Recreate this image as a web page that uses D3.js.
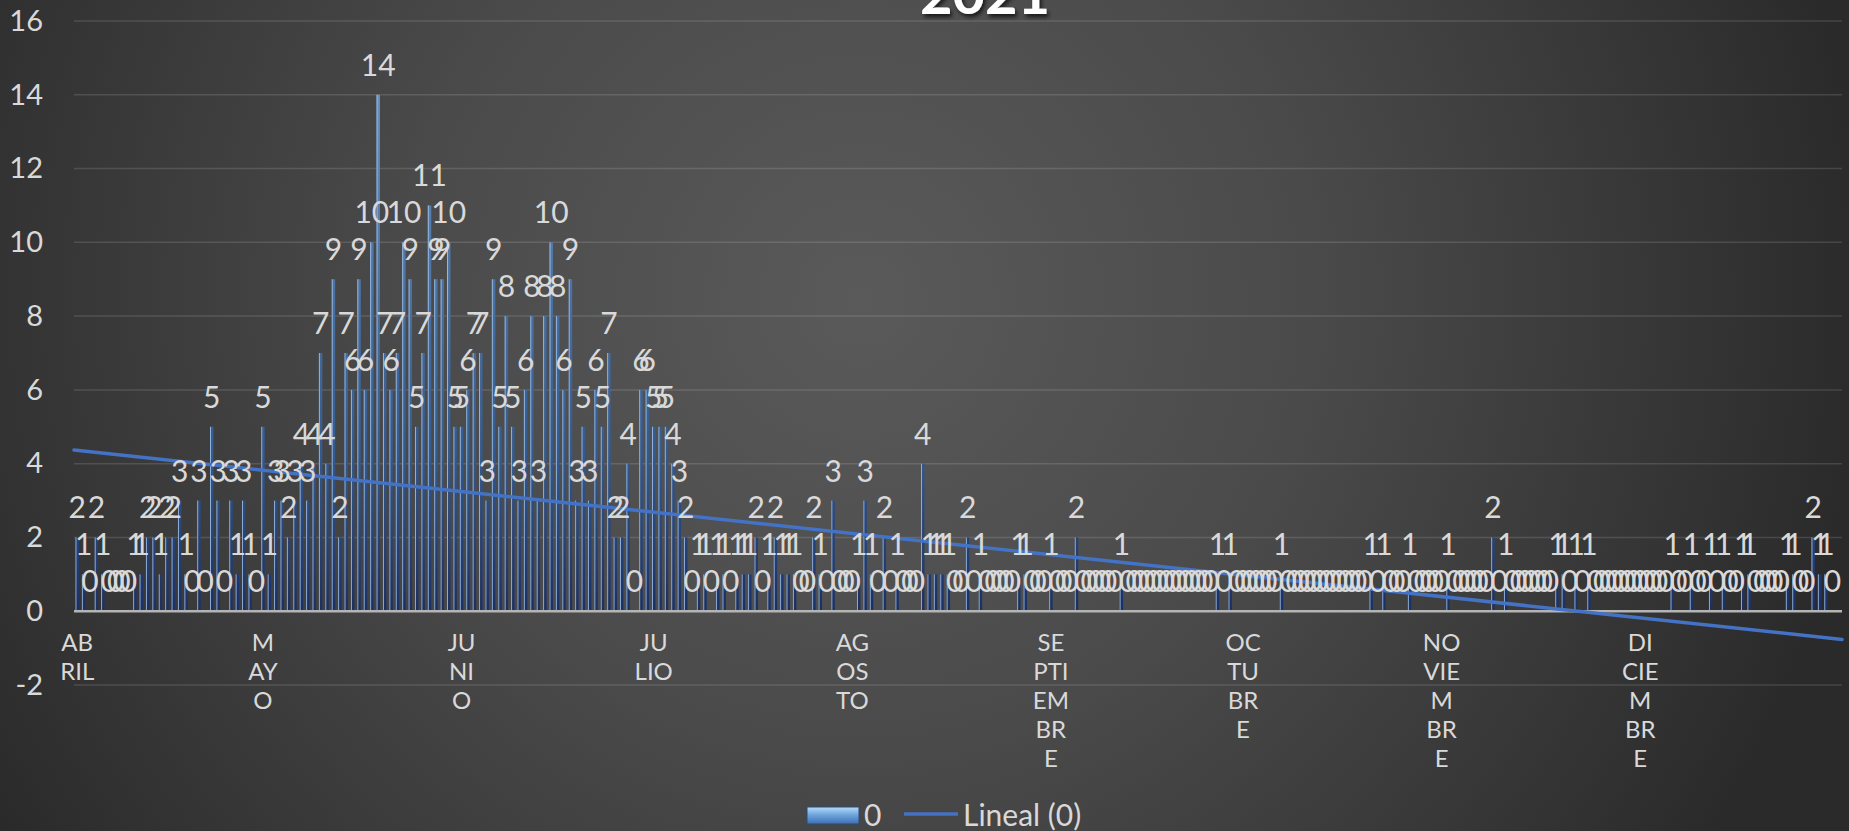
<!DOCTYPE html>
<html><head><meta charset="utf-8">
<script src="https://cdn.jsdelivr.net/npm/d3@7/dist/d3.min.js"></script>
<style>html,body{margin:0;padding:0;background:#333;overflow:hidden}svg{display:block}</style>
</head><body>
<svg id="chart" width="1849" height="831"></svg>
<script>
// ---------- data ----------
const chartTitle = "2021";
const seriesName = "0";
const trendName = "Lineal (0)";
const valuesApr = [2,1,0,2,1,0,0,0,0,1,1,2,2,1,2,2,3,1,0,3,0,5,3,0,3,1,3,1,0,5];
const valuesMay = [1,3,3,2,3,4,3,4,7,4,9,2,7,6,9,6,10,14,7,6,7,10,9,5,7,11,9,9,10,5,5];
const valuesJun = [6,7,7,3,9,5,8,5,3,6,8,3,8,10,8,6,9,3,5,3,6,5,7,2,2,4,0,6,6,5];
const valuesJul = [5,5,4,3,2,0,1,1,0,1,1,0,1,1,1,2,0,1,2,1,1,1,0,0,2,1,0,3,0,0,0];
const valuesAug = [1,3,1,0,2,0,1,0,0,0,4,1,1,1,1,0,0,2,0,1,0,0,0,0,0,1,1,0,0,0,1];
const valuesSep = [0,0,0,2,0,0,0,0,0,0,1,0,0,0,0,0,0,0,0,0,0,0,0,0,0,1,0,1,0,0];
const valuesOct = [0,0,0,0,0,1,0,0,0,0,0,0,0,0,0,0,0,0,0,1,0,1,0,0,0,1,0,0,0,0,0];
const valuesNov = [1,0,0,0,0,0,0,2,0,1,0,0,0,0,0,0,0,1,1,0,1,0,1,0,0,0,0,0,0,0];
const valuesDec = [0,0,0,0,0,1,0,0,1,0,0,1,0,1,0,0,1,1,0,0,0,0,0,1,1,0,0,2,1,1,0];
const extraDays = [null];
// category rows that carry a month label
const monthLabelIndex = [0,29,60,90,121,152,182,213,244];
const monthLabels = [["AB","RIL"],["M","AY","O"],["JU","NI","O"],["JU","LIO"],["AG","OS","TO"],
  ["SE","PTI","EM","BR","E"],["OC","TU","BR","E"],["NO","VIE","M","BR","E"],["DI","CIE","M","BR","E"]];
const yTicks = [-2,0,2,4,6,8,10,12,14,16];

const values = [].concat(valuesApr,valuesMay,valuesJun,valuesJul,valuesAug,valuesSep,valuesOct,valuesNov,valuesDec,extraDays);
const data = values.map((v,i)=>({i, v}));

// ---------- layout ----------
const W = 1849, H = 831;
const P = {left:74, right:1842, top:21, bottom:685};
const FONT = "Lato, 'Open Sans', sans-serif";
const svg = d3.select("#chart");
const defs = svg.append("defs");

const bg = defs.append("radialGradient").attr("id","bg").attr("gradientUnits","userSpaceOnUse")
  .attr("cx",860).attr("cy",300).attr("r",1010);
bg.append("stop").attr("offset","0").attr("stop-color","#5a5a5a");
bg.append("stop").attr("offset","0.45").attr("stop-color","#4a4a4a");
bg.append("stop").attr("offset","0.85").attr("stop-color","#333333");
bg.append("stop").attr("offset","1").attr("stop-color","#2a2a2a");
svg.append("rect").attr("width",W).attr("height",H).attr("fill","url(#bg)");

const x = d3.scaleBand().domain(d3.range(values.length)).range([P.left,P.right]).paddingInner(0.46).paddingOuter(0.23);
const y = d3.scaleLinear().domain([-2,16]).range([P.bottom,P.top]);
const cx = i => x(i) + x.bandwidth()/2;

const barGrad = defs.append("linearGradient").attr("id","barGrad").attr("gradientUnits","userSpaceOnUse")
  .attr("x1",0).attr("x2",0).attr("y1",y(0)).attr("y2",y(14));
barGrad.append("stop").attr("offset","0").attr("stop-color","#1c2f63");
barGrad.append("stop").attr("offset","0.3").attr("stop-color","#34598e");
barGrad.append("stop").attr("offset","1").attr("stop-color","#6790bd");

const shadow = defs.append("filter").attr("id","tshadow").attr("x","-20%").attr("y","-20%").attr("width","140%").attr("height","160%");
shadow.append("feDropShadow").attr("dx",2).attr("dy",3).attr("stdDeviation",2).attr("flood-color","#000").attr("flood-opacity",0.7);

const legGrad = defs.append("linearGradient").attr("id","legGrad").attr("x1",0).attr("x2",0).attr("y1",0).attr("y2",1);
legGrad.append("stop").attr("offset","0").attr("stop-color","#b7dbf7");
legGrad.append("stop").attr("offset","0.45").attr("stop-color","#6fa6de");
legGrad.append("stop").attr("offset","1").attr("stop-color","#3d6fb0");

// gridlines
svg.append("g").selectAll("line").data(yTicks.filter(t=>t!==0)).join("line")
  .attr("x1",P.left).attr("x2",P.right).attr("y1",d=>y(d)).attr("y2",d=>y(d))
  .attr("stroke","#ffffff").attr("stroke-opacity",0.13).attr("stroke-width",1.5);

// y axis labels
const yAxis = svg.append("g").attr("transform",`translate(${P.left},0)`)
  .call(d3.axisLeft(y).tickValues(yTicks).tickSize(0).tickPadding(31).tickFormat(d=>String(d)));
yAxis.select(".domain").remove();
yAxis.selectAll("text").attr("fill","#d9d9d9").attr("font-family",FONT).attr("font-size",29);

// bars
const bars = svg.append("g");
const barData = data.filter(d=>d.v!==null);
bars.selectAll("rect.b").data(barData).join("rect").attr("class","b")
  .attr("x",d=>x(d.i)).attr("width",x.bandwidth())
  .attr("y",d=>y(d.v)).attr("height",d=>y(0)-y(d.v))
  .attr("fill","url(#barGrad)");
bars.selectAll("rect.h").data(barData).join("rect").attr("class","h")
  .attr("x",d=>x(d.i)).attr("width",1)
  .attr("y",d=>y(d.v)).attr("height",d=>y(0)-y(d.v))
  .attr("fill","#a7c8ea").attr("opacity",0.8);

// zero axis line
svg.append("line").attr("x1",P.left).attr("x2",P.right).attr("y1",y(0)).attr("y2",y(0))
  .attr("stroke","#b4b4b4").attr("stroke-width",2.5);

// month labels
const mg = svg.append("g").attr("font-family",FONT).attr("font-size",24).attr("fill","#d9d9d9");
monthLabelIndex.forEach((s,k)=>{
  const t = mg.append("text").attr("text-anchor","middle");
  monthLabels[k].forEach((ln,j)=>{
    t.append("tspan").attr("x",cx(s)).attr("y",651 + j*29).text(ln);
  });
});

// trendline (least squares)
const pts = barData;
const mx = d3.mean(pts,d=>d.i), my = d3.mean(pts,d=>d.v);
const slope = d3.sum(pts,d=>(d.i-mx)*(d.v-my)) / d3.sum(pts,d=>(d.i-mx)*(d.i-mx));
const icpt = my - slope*mx;
const step = x.step();
const i0 = -0.5, i1 = values.length - 0.5;
const xi = i => P.left + (i+0.5)*step;
svg.append("line").attr("x1",xi(i0)).attr("x2",xi(i1))
  .attr("y1",y(icpt+slope*i0)).attr("y2",y(icpt+slope*i1))
  .attr("stroke","#4472c4").attr("stroke-width",3.5).attr("stroke-linecap","round");

// data labels
svg.append("g").attr("font-family",FONT).attr("font-size",30).attr("fill","#d9d9d9")
  .attr("text-anchor","middle")
  .selectAll("text").data(barData).join("text")
  .attr("x",d=>cx(d.i)).attr("y",d=>y(d.v)-19).text(d=>d.v);

// title
svg.append("text").attr("x",985).attr("y",14).attr("text-anchor","middle")
  .attr("font-family",FONT).attr("font-weight","bold").attr("font-size",56)
  .attr("fill","#ffffff").attr("filter","url(#tshadow)").text(chartTitle);

// legend
const lg = svg.append("g").attr("font-family",FONT).attr("font-size",30).attr("fill","#d9d9d9");
lg.append("rect").attr("x",807).attr("y",807).attr("width",52).attr("height",17)
  .attr("fill","url(#legGrad)").attr("stroke","#2a4a78").attr("stroke-width",1);
lg.append("text").attr("x",864).attr("y",826).text(seriesName);
lg.append("line").attr("x1",904).attr("x2",958).attr("y1",814).attr("y2",814)
  .attr("stroke","#4472c4").attr("stroke-width",3.5);
lg.append("text").attr("x",963).attr("y",826).text(trendName);
</script>
</body></html>
